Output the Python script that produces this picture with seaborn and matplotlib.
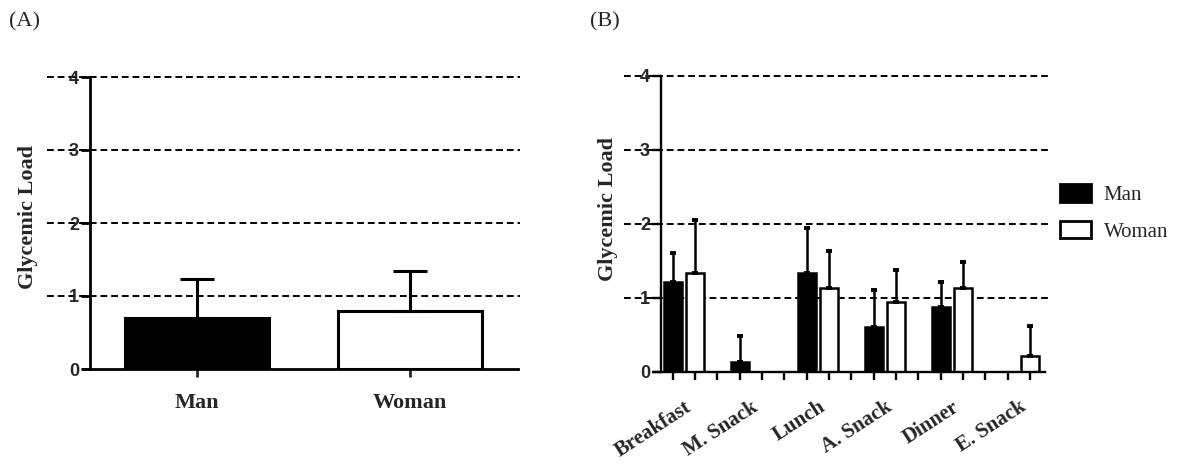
import numpy as np
import pandas as pd
import matplotlib
matplotlib.use("Agg")
import matplotlib.pyplot as plt
import seaborn as sns
from matplotlib.patches import Patch

# Dados
SEXES = ["Man", "Woman"]
GL_TOTAL = [0.70, 0.79]
GL_TOTAL_SD = [0.53, 0.55]

MEALS = ["Breakfast", "M. Snack", "Lunch", "A. Snack", "Dinner", "E. Snack"]
GL_MAN = [1.21, 0.14, 1.34, 0.61, 0.88, 0.0]
GL_MAN_SD = [0.40, 0.35, 0.60, 0.50, 0.34, 0.0]
GL_WOMAN = [1.34, 0.0, 1.14, 0.95, 1.14, 0.21]
GL_WOMAN_SD = [0.71, 0.0, 0.50, 0.43, 0.34, 0.41]

sns.set_style("white")
plt.rcParams["font.family"] = ["Liberation Serif", "DejaVu Serif"]

W, H = 1183, 468
fig = plt.figure(figsize=(W / 100, H / 100), dpi=100)


def box(x0, x1, y_top, y_bot):
    return [x0 / W, 1 - y_bot / H, (x1 - x0) / W, (y_bot - y_top) / H]


ax_a = fig.add_axes(box(90, 520, 77, 369))
ax_b = fig.add_axes(box(661, 1049, 76, 372))


def estilo_eixo(ax, lw, grid_x0):
    ax.set_ylim(0, 4)
    for s in ["top", "right"]:
        ax.spines[s].set_visible(False)
    for s in ["left", "bottom"]:
        ax.spines[s].set_linewidth(lw)
        ax.spines[s].set_color("black")
        ax.spines[s].set_zorder(3)
    ax.set_yticks([0, 1, 2, 3, 4])
    ax.set_yticklabels(["0", "1", "2", "3", "4"], family="Liberation Sans",
                       fontweight="bold", fontsize=13)
    ax.tick_params(axis="y", direction="out", length=6.5, width=lw, pad=1.5,
                   color="black", left=True)
    for y in [1, 2, 3, 4]:
        ax.axhline(y, xmin=grid_x0, xmax=1, color="black", lw=1.4,
                   linestyle=(0, (3.5, 2)), clip_on=False, zorder=0)
    ax.set_ylabel("Glycemic Load", fontsize=16, fontweight="bold")
    ax.set_xlabel("")


def barras_erro(ax, erros, lw, capsize, capthick):
    for cont, errs in zip(ax.containers, erros):
        for bar, e in zip(cont, errs):
            if e <= 0:
                continue
            x = bar.get_x() + bar.get_width() / 2
            ax.errorbar([x], [bar.get_height()], yerr=[[0], [e]], fmt="none",
                        ecolor="black", elinewidth=lw, capsize=capsize,
                        capthick=capthick, zorder=2)


# (A) total
df_a = pd.DataFrame({"sexo": SEXES, "gl": GL_TOTAL})
sns.barplot(data=df_a, x="sexo", y="gl", hue="sexo", palette=["black", "white"],
            edgecolor="black", linewidth=2.2, width=0.676, errorbar=None,
            legend=False, ax=ax_a)
barras_erro(ax_a, [[GL_TOTAL_SD[0]], [GL_TOTAL_SD[1]]], 2.2, 12.5, 2.2)
ax_a.set_xlim(-0.505, 1.519)
estilo_eixo(ax_a, 2.0, -0.1)
ax_a.spines["bottom"].set_bounds(-0.54, 1.51)
ax_a.set_xticks([0, 1])
ax_a.set_xticklabels(SEXES, fontsize=16, fontweight="bold")
ax_a.tick_params(axis="x", direction="out", length=6, width=2, pad=11,
                 bottom=True)
ax_a.yaxis.set_label_coords(-0.12, 0.52)

# (B) por refeição
df_b = pd.DataFrame({
    "refeicao": MEALS * 2,
    "sexo": ["Man"] * len(MEALS) + ["Woman"] * len(MEALS),
    "gl": GL_MAN + GL_WOMAN,
})
sns.barplot(data=df_b, x="refeicao", y="gl", hue="sexo", order=MEALS,
            hue_order=SEXES, palette=["black", "white"], edgecolor="black",
            linewidth=1.8, width=2 / 3, gap=0.2, errorbar=None, legend=False,
            ax=ax_b)
barras_erro(ax_b, [GL_MAN_SD, GL_WOMAN_SD], 1.8, 2.5, 2.8)
ax_b.set_xlim(-0.343, 5.45)
estilo_eixo(ax_b, 1.7, -0.095)
ax_b.spines["bottom"].set_bounds(-0.448, 5.39)
n = len(MEALS)
slots = sorted([i - 1 / 6 for i in range(n)] + [i + 1 / 6 for i in range(n)]
               + [i + 0.5 for i in range(n - 1)])
ax_b.set_xticks(slots, minor=True)
ax_b.set_xticks(range(n))
ax_b.set_xticklabels(MEALS, fontsize=15, fontweight="bold", rotation=33,
                     ha="right", rotation_mode="anchor")
ax_b.tick_params(axis="x", which="major", length=0, pad=18, bottom=True)
ax_b.tick_params(axis="x", which="minor", direction="out", length=6, width=1.7,
                 bottom=True, color="black")
ax_b.yaxis.set_label_coords(-0.111, 0.55)

# legenda
handles = [Patch(facecolor="black", edgecolor="black", linewidth=2),
           Patch(facecolor="white", edgecolor="black", linewidth=2)]
fig.legend(handles, SEXES, loc="center left",
           bbox_to_anchor=(1060 / W, 1 - 213 / H), frameon=False, fontsize=15,
           handlelength=1.5, handleheight=0.9, handletextpad=0.6,
           labelspacing=0.75, borderaxespad=0, borderpad=0)

fig.text(25 / W, 1 - 22 / H, "(A)", ha="center", va="center", fontsize=16)
fig.text(605 / W, 1 - 22 / H, "(B)", ha="center", va="center", fontsize=16)

fig.savefig("out.png", dpi=100)
